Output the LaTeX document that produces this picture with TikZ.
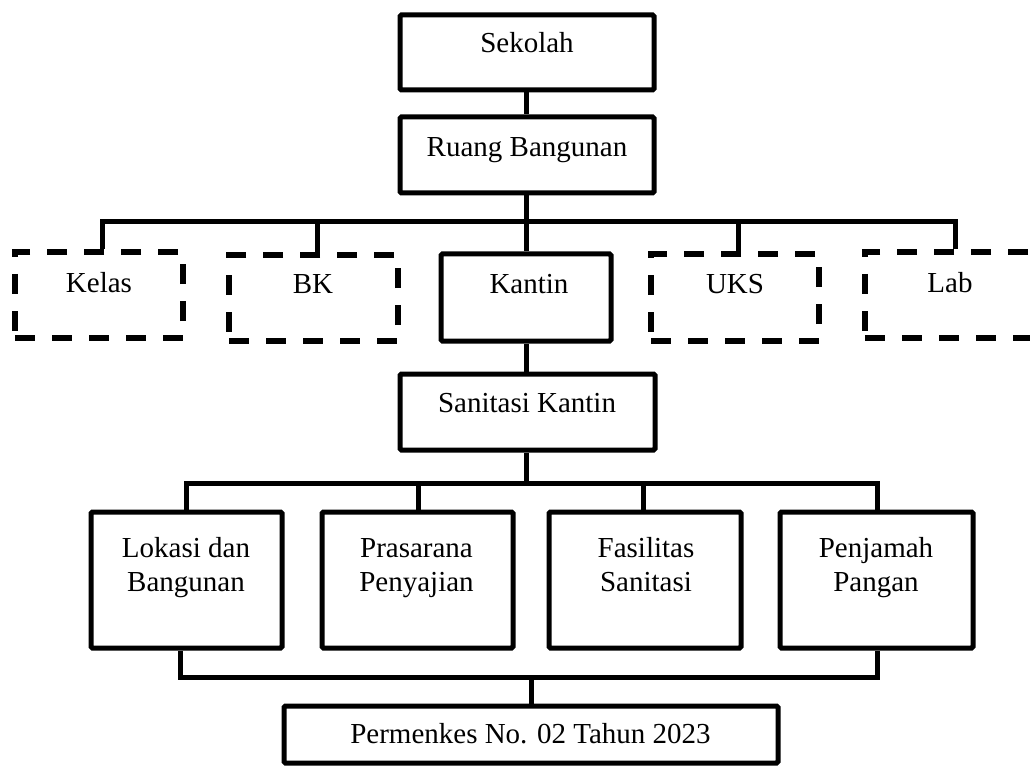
\documentclass[tikz,border=0pt]{standalone}
\usepackage{fontspec}
\setmainfont{Liberation Serif}
\begin{document}
\begin{tikzpicture}[x=1pt,y=-1pt,
  solidbox/.style={draw, line width=5pt, fill=white, rounded corners=1.5pt, inner sep=0pt},
  dashbox/.style={draw, line width=5.5pt, dash pattern=on 20pt off 17pt, inner sep=0pt},
  conn/.style={line width=5pt},
  lbl/.style={font=\fontsize{29}{34}\selectfont, inner sep=0pt, anchor=base, align=center}]
\useasboundingbox[fill=white] (0,0) rectangle (1030,767);

% boxes
\node[solidbox, minimum width=254pt, minimum height=75pt] (sek) at (527,52.5) {};
\node[solidbox, minimum width=254pt, minimum height=76pt] (ruang) at (527,155) {};
\node[dashbox, minimum width=168pt, minimum height=86pt] (kelas) at (99,295) {};
\node[dashbox, minimum width=169pt, minimum height=86pt] (bk) at (313.5,298) {};
\node[solidbox, minimum width=170pt, minimum height=87pt] (kantin) at (526,297.5) {};
\node[dashbox, minimum width=168pt, minimum height=87pt] (uks) at (735,297.5) {};
\node[dashbox, minimum width=168pt, minimum height=86pt] (lab) at (949,295) {};
\node[solidbox, minimum width=255pt, minimum height=76pt] (sanitasi) at (527.5,412) {};
\node[solidbox, minimum width=191pt, minimum height=136pt] (lokasi) at (186.5,580) {};
\node[solidbox, minimum width=191pt, minimum height=136pt] (prasarana) at (417.5,580) {};
\node[solidbox, minimum width=192pt, minimum height=136pt] (fasilitas) at (645,580) {};
\node[solidbox, minimum width=193pt, minimum height=136pt] (penjamah) at (876.5,580) {};
\node[solidbox, minimum width=494pt, minimum height=57pt] (permenkes) at (531,734.5) {};

% texts
\node[lbl] (sekT) at (527,53) {Sekolah};
\node[lbl] (ruangT) at (527,157) {Ruang Bangunan};
\node[lbl] (kelasT) at (99,292) {Kelas};
\node[lbl] (bkT) at (313,293) {BK};
\node[lbl] (kantinT) at (529,293) {Kantin};
\node[lbl] (uksT) at (735,293) {UKS};
\node[lbl] (labT) at (950,292) {Lab};
\node[lbl] (sanitasiT) at (527,412) {Sanitasi Kantin};
\node[lbl] (lokasiT) at (186,591) {Lokasi dan\\Bangunan};
\node[lbl] (prasaranaT) at (416.5,591) {Prasarana\\Penyajian};
\node[lbl] (fasilitasT) at (646,591) {Fasilitas\\Sanitasi};
\node[lbl] (penjamahT) at (876,591) {Penjamah\\Pangan};
\node[lbl] (permenkesT) at (530.5,743) {Permenkes No. 02 Tahun 2023};

% connectors
\coordinate (b1L) at (102,222);
\coordinate (b1R) at (955,222);
\coordinate (b1K) at (317,222);
\coordinate (b1U) at (738,222);
\coordinate (b2L) at (186,483);
\coordinate (b2R) at (877,483);
\coordinate (b2P) at (418,483);
\coordinate (b2F) at (643,483);
\coordinate (b3L) at (180,677);
\coordinate (b3R) at (877,677);
\coordinate (b3M) at (531,677);

\draw[conn] (sek.south -| 526,0) -- (ruang.north -| 526,0);
\draw[conn] (ruang.south -| 526,0) -- (kantin.north -| 526,0);
\draw[conn] (b1L |- kelas.north) -- (b1L) -- (b1R) -- (b1R |- lab.north);
\draw[conn] (b1K) -- (b1K |- bk.north);
\draw[conn] (b1U) -- (b1U |- uks.north);
\draw[conn] (kantin.south -| 526,0) -- (sanitasi.north -| 526,0);
\draw[conn] (sanitasi.south -| 526,0) -- (526,483);
\draw[conn] (b2L |- lokasi.north) -- (b2L) -- (b2R) -- (b2R |- penjamah.north);
\draw[conn] (b2P) -- (b2P |- prasarana.north);
\draw[conn] (b2F) -- (b2F |- fasilitas.north);
\draw[conn] (b3L |- lokasi.south) -- (b3L) -- (b3R) -- (b3R |- penjamah.south);
\draw[conn] (b3M) -- (b3M |- permenkes.north);
\end{tikzpicture}
\end{document}
